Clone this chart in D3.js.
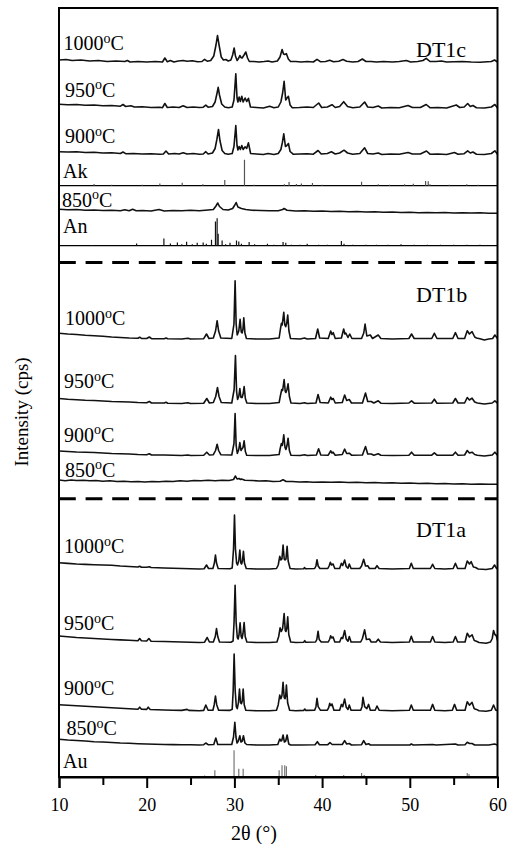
<!DOCTYPE html>
<html><head><meta charset="utf-8">
<script src="https://cdn.jsdelivr.net/npm/d3@7"></script>
<style>body{margin:0;background:#fff}svg{display:block}</style>
</head><body><svg id="c" width="518" height="844"></svg>
<script>
// ---------------- DATA (2θ in degrees, intensity in a.u. above each pattern's own baseline) ----------------
const panels = ["DT1c", "DT1b", "DT1a"];
const temps = [1000, 950, 900, 850, 1000, 950, 900, 850, 1000, 950, 900, 850];
const patternPanel = [0, 0, 0, 0, 1, 1, 1, 1, 2, 2, 2, 2];
const offsets = [715, 669, 622.5, 566, 438, 373.5, 321.5, 295, 208, 134.5, 66.3, 32];

const c1000 = [[10,2],[10.8,2.5],[11.5,1.5],[12.5,2],[13.5,1],[14.5,1.5],[15.5,0.5],[16.5,1],[17.5,0.5],[17.8,1.5],[18.1,0],[19,0.5],[20,0],[21,0.5],[21.8,0],[22.07,4],[22.35,0.3],[22.7,1.5],[23.1,0],[23.6,1],[24.16,1.5],[24.6,0.8],[25.2,1.2],[25.8,0.3],[26.3,0.5],[26.6,2.7],[26.9,0.8],[27.3,1.5],[27.65,6],[27.9,17],[28.07,26.5],[28.25,17],[28.5,5],[28.75,2],[29.02,2.5],[29.3,1],[29.6,2],[29.8,7],[29.97,14],[30.12,6],[30.31,1.5],[30.5,4],[30.62,6.5],[30.75,4.5],[30.88,4],[31.1,7],[31.3,10],[31.5,4],[31.7,0.5],[32.2,0.5],[32.8,0],[33.4,0.5],[33.84,1],[34.3,0],[34.9,1],[35.2,5],[35.44,12.5],[35.6,8],[35.72,7.5],[35.93,8.3],[36.15,3],[36.4,0.5],[37,0.5],[37.6,0],[38.3,0.5],[39,0],[39.42,2.7],[39.8,0.3],[40.4,0.5],[40.87,1.8],[41.3,0.2],[41.9,0.8],[42.38,2.5],[42.8,0.8],[43.5,0],[44.1,0.5],[44.59,3],[45,0.5],[45.6,0.5],[46.2,0],[47,0.5],[48,0],[48.8,0.5],[49.6,1.5],[50.1,0],[50.9,0.5],[51.5,1.5],[51.87,3.7],[52.3,0.5],[53,0.5],[53.6,1],[54.2,0],[55,0.3],[56,0.5],[57,0],[58,-0.3],[59.3,0.5],[59.66,2],[60,0]];
const c950 = [[10,3.7],[11,3.2],[12,3.5],[13,2.7],[14,3],[15,2.3],[16,2.5],[17,1.8],[17.3,3.5],[17.6,1.5],[18.2,2.3],[18.6,1],[19.5,1.2],[20.5,0.5],[21.5,0.8],[21.8,0.3],[22.07,4.5],[22.35,0.5],[23,1],[23.7,0.5],[24.16,2.3],[24.6,0.5],[25.3,1],[26,0.5],[26.45,0.8],[26.74,2.8],[27,0.8],[27.5,1.5],[27.8,6],[28.0,14],[28.15,20.7],[28.3,13],[28.55,4],[28.9,1],[29.3,0.3],[29.75,1],[29.95,8],[30.16,34.3],[30.3,10],[30.4,6],[30.54,11],[30.68,6.5],[30.84,11.7],[31.0,6],[31.22,10],[31.4,6.5],[31.6,9.7],[31.83,1],[32.5,0.5],[33.3,0],[34.03,1.7],[34.5,0.3],[35.0,1],[35.3,6],[35.5,15],[35.67,26.7],[35.85,8],[36.0,10],[36.16,11.7],[36.35,3],[36.6,0.3],[37.4,0.5],[38.28,1],[39,0.5],[39.61,5],[39.95,0.5],[40.6,1],[41.13,3.3],[41.5,0.5],[42,1.5],[42.46,6.3],[42.9,1.5],[43.5,0.3],[44.3,1],[44.85,6],[45.2,1],[45.8,0.5],[46.4,2],[46.8,0],[47.8,0.5],[48.8,0.3],[49.8,2.5],[50.3,0.5],[51.2,0.5],[51.87,3.5],[52.3,0.3],[53.2,0.5],[54.2,0],[55.3,3],[55.7,0.5],[56.2,1],[56.6,4.5],[56.9,1.5],[57.2,2.5],[57.6,0.3],[58.5,0],[59.3,1],[59.7,3.5],[60,0]];
const c900 = [[10,2.8],[11,2.5],[12,2.8],[13,2],[14,2.3],[15,1.5],[16,1.8],[17,1],[17.3,2.5],[17.6,0.8],[18.5,1],[19.5,0.5],[20.5,0.8],[21.5,0.3],[21.9,0.5],[22.2,3.5],[22.5,0.5],[23.2,1],[23.7,0.5],[24.16,1.8],[24.6,0.5],[25.3,1],[26,0.3],[26.45,0.5],[26.74,2.8],[27,0.5],[27.5,1.5],[27.8,6],[28.0,15],[28.19,25],[28.35,14],[28.6,4],[28.9,1],[29.3,0.3],[29.75,1],[29.95,8],[30.16,29],[30.3,9],[30.4,4.5],[30.54,8],[30.68,5],[30.84,9],[31.0,5],[31.22,7.7],[31.4,6],[31.6,11.7],[31.85,1],[32.5,0.5],[33.3,0],[33.84,1],[34.5,0],[35.0,1],[35.3,5],[35.47,12],[35.63,20.7],[35.82,8],[35.98,9],[36.16,11],[36.35,3],[36.7,0.3],[37.4,0.5],[38.3,0.8],[39,0.3],[39.54,4],[39.9,0.5],[40.6,1],[41.06,2.7],[41.5,0.5],[42,1.5],[42.5,4.3],[42.9,1.5],[43.5,0.3],[44.3,1],[44.85,6.7],[45.2,1],[45.8,0.5],[46.4,1.5],[46.8,0],[47.8,0.5],[48.8,0.3],[49.8,2],[50.3,0.5],[51.2,0.5],[51.9,3.5],[52.3,0.3],[53.2,0.5],[54.2,0],[55.1,2],[55.5,0.3],[56.2,0.8],[56.6,3.7],[56.9,1.5],[57.2,2.5],[57.6,0.3],[58.5,0],[59.3,1],[59.7,3.7],[60,0.3]];
const c850 = [[10,1.7],[11,1.2],[12,1.5],[13,0.8],[14,1],[15,0.5],[16,0.8],[17,0.3],[17.5,1.3],[18,0.3],[18.4,1.8],[18.8,0.3],[19.5,0.5],[20.5,0],[21.4,1.5],[22,0],[23,0.5],[24,0.3],[25,0.8],[26,0.3],[27,1],[27.6,1.5],[27.9,5],[28.1,8],[28.3,4.5],[28.7,1.5],[29.3,1],[29.8,2.5],[30.05,6],[30.2,8.5],[30.4,4],[30.8,2.5],[31.3,1.5],[32,0.8],[33,0.5],[34,0.3],[35,0.3],[35.5,1.5],[35.67,2.5],[36,0.8],[37,0],[38,0.3],[39,-0.3],[40,0],[41,-0.5],[42,-0.3],[43,-0.8],[44,-0.5],[45,-1],[46,-0.8],[47,-1.2],[48,-1],[49,-1.5],[50,-1.2],[51,-1.7],[52,-1.5],[53,-1.8],[54,-1.5],[55,-2],[56,-1.7],[57,-2],[58,-1.8],[59,-2.3],[60,-2.3]];

const b1000 = [[10,5.7],[11,5],[12,4.5],[13,3.8],[14,3.3],[15,2.7],[16,2],[17,1.5],[18,1],[19,0.8],[19.2,1.8],[19.4,0.6],[20,0.5],[20.3,2],[20.55,0.4],[22,0.3],[22.2,1],[22.4,0.2],[24,0],[24.7,0.8],[25,0],[26.5,0.3],[26.82,5],[27.1,0.5],[27.6,1],[27.85,8],[28.03,18.3],[28.2,8],[28.45,1],[29.7,0.5],[29.95,15],[30.08,58.3],[30.2,15],[30.32,4],[30.5,8],[30.65,19.7],[30.78,7],[30.88,6],[30.98,10],[31.07,21.3],[31.2,6],[31.37,0.5],[32.5,0],[34,0],[35.1,1],[35.25,10],[35.36,15.7],[35.45,14],[35.63,26.7],[35.75,14],[35.85,12.3],[35.97,16],[36.08,24],[36.22,8],[36.4,0.5],[37.5,0],[38.0,1],[38.3,0],[39.25,0.5],[39.5,10],[39.72,1],[40.7,0.5],[40.98,8],[41.12,4.5],[41.27,6.3],[41.5,0.5],[42.2,1],[42.46,10],[42.6,5],[42.7,6],[42.95,1.5],[43.15,5],[43.4,0.5],[44.5,0.5],[44.75,6],[44.9,15],[45.1,3],[45.5,4],[45.75,0.5],[46.4,4],[46.7,0.5],[48,0],[49.9,0.5],[50.2,5],[50.5,0.5],[52.5,0.5],[52.8,5.7],[53.1,0.5],[54.9,0.5],[55.2,6.3],[55.5,0.5],[56.25,0.5],[56.55,8.3],[56.8,5],[57.1,7.3],[57.4,2],[57.6,1],[58,0.3],[58.5,-1],[59,0],[59.45,0.5],[59.7,4],[60,0.5]];
const b950 = [[10,5],[11,4.3],[12,3.8],[13,3.3],[14,3],[15,2.5],[16,2],[17,1.7],[18,1.5],[19,1],[20,0.8],[20.3,2],[20.55,0.5],[22,0.5],[22.2,1.3],[22.4,0.3],[24,0],[24.7,0.7],[25,0],[26.5,0.3],[26.85,5],[27.15,0.5],[27.6,1],[27.87,7],[28.07,16],[28.25,7],[28.5,1],[29.7,0.5],[29.97,14],[30.12,48],[30.25,12],[30.36,4],[30.5,7],[30.62,15],[30.75,6],[30.88,6],[30.98,9],[31.11,17],[31.25,5],[31.42,0.5],[32.5,0],[34,0],[35.1,1],[35.25,8],[35.4,14],[35.5,13],[35.67,24],[35.8,12],[35.88,11],[36.0,14],[36.12,19.7],[36.27,7],[36.45,0.5],[37.5,0],[38.0,0.8],[38.3,0],[39.3,0.5],[39.54,9],[39.78,1],[40.7,0.5],[40.98,6.3],[41.12,4],[41.27,5],[41.5,0.5],[42.3,1],[42.57,8.5],[42.8,3],[43.1,4],[43.35,0.5],[44.6,0.5],[44.95,10.5],[45.2,2],[45.6,2],[45.9,0.5],[46.4,2.7],[46.7,0.3],[48,0],[49.9,0.5],[50.2,2.7],[50.5,0.3],[52.5,0.5],[52.8,4.3],[53.1,0.3],[54.9,0.5],[55.2,5],[55.5,0.5],[56.25,0.5],[56.55,6],[56.8,3.5],[57.1,5.3],[57.4,1.5],[57.7,0.5],[58.5,-0.5],[59.4,0.5],[59.7,2.7],[60,0.3]];
const b900 = [[10,4.5],[11,4],[12,3.5],[13,3.2],[14,3],[15,2.5],[16,2],[17,1.7],[18,1.5],[19,1],[20,0.8],[20.3,1.8],[20.55,0.5],[22,0.5],[24,0],[24.7,0.5],[25,0],[26.5,0.3],[26.85,3.3],[27.15,0.5],[27.6,0.8],[27.85,5],[28.03,11.3],[28.2,5],[28.45,0.8],[29.7,0.5],[29.95,12],[30.08,42],[30.2,10],[30.33,2],[30.5,6],[30.62,13],[30.75,5],[30.85,6.5],[30.98,8],[31.11,14.7],[31.25,4],[31.4,0.3],[32.5,0],[34,0],[35.1,1],[35.22,7],[35.36,12],[35.47,10],[35.63,20.7],[35.77,8],[35.87,6],[36.0,10],[36.12,17.3],[36.27,5],[36.45,0.3],[37.5,0],[38.0,0.8],[38.3,0],[39.35,0.5],[39.6,6.7],[39.85,0.5],[40.7,0.3],[40.98,4.7],[41.12,2.5],[41.25,3.3],[41.5,0.3],[42.3,1],[42.57,6.3],[42.8,2],[43.1,2.3],[43.35,0.3],[44.6,0.5],[44.95,9],[45.2,1.5],[45.6,1.5],[45.9,0.3],[46.4,1.7],[46.7,0.3],[48,0],[49.9,0.3],[50.2,3.3],[50.5,0.3],[52.5,0.3],[52.8,2.7],[53.1,0.3],[54.9,0.3],[55.2,3.3],[55.5,0.3],[56.25,0.5],[56.55,5],[56.8,2.5],[57.1,3.3],[57.4,1],[57.7,0.3],[58.5,-0.5],[59.4,0.5],[59.7,3.3],[60,0.3]];
const b850 = [[10,2],[10.7,1.3],[11.4,2],[12,1.5],[12.8,1.8],[13.5,1.2],[14.2,1.5],[15,0.8],[15.8,1.2],[16.6,0.5],[17.4,0.8],[18.2,0.3],[19,0.5],[19.8,0],[20.6,0.5],[21.4,0.3],[22.2,0.8],[23,0.5],[23.8,1.2],[24.6,0.8],[25.4,1.5],[26.2,1.2],[27,1.8],[27.8,1.3],[28.6,1.8],[29.4,1.5],[29.9,2.5],[30.12,6],[30.3,3],[30.54,3.5],[30.7,2.5],[30.8,3],[31.2,1.8],[32,1.5],[32.8,1],[33.6,1.2],[34.4,0.5],[35.2,0.8],[35.55,2.3],[35.9,0.5],[36.6,0.5],[37.4,0],[38.2,0.3],[39,-0.2],[40,0],[41,-0.3],[42,0],[43,-0.5],[44,-0.3],[45,-0.8],[46,-0.5],[47,-1],[48,-0.8],[49,-1.2],[50,-1],[51,-1.5],[52,-1.2],[53,-1.7],[54,-1.5],[55,-2],[56,-1.7],[57,-2.2],[58,-2],[59,-2.3],[60,-2.3]];

const a1000 = [[10,6.3],[11,5.6],[12,5],[13,4.6],[14,4.3],[15,4],[16,3.7],[17,3],[18,2.5],[19,2],[19.2,2.8],[19.4,1.8],[20,1.7],[20.3,2.3],[20.5,1.5],[22,1],[23,0.8],[24,0.5],[25,0.3],[26,0],[26.55,0.3],[26.82,4],[27.05,0.5],[27.55,0.5],[27.72,6],[27.84,14],[27.96,6],[28.15,0.5],[29.5,0.3],[29.75,1],[29.9,20],[30.01,54],[30.12,20],[30.25,6],[30.35,4],[30.5,8],[30.62,19],[30.74,6],[30.82,5],[30.92,8],[31.03,17.7],[31.15,6],[31.35,0.5],[32.5,0],[34,0],[34.8,0.5],[35.0,4],[35.17,12.7],[35.3,9],[35.42,10],[35.55,24],[35.68,10],[35.78,9],[35.88,10],[36.01,22.7],[36.13,8],[36.35,0.5],[37,0],[37.9,0.3],[38.0,1.5],[38.1,0.3],[39.15,0.5],[39.3,3],[39.42,9.3],[39.55,3],[39.75,0.5],[40.65,0.5],[40.8,3],[40.94,6.7],[41.07,4],[41.25,5],[41.45,0.5],[42,0.5],[42.2,5.7],[42.35,3.5],[42.57,9],[42.75,2.5],[42.95,0.8],[43.1,5],[43.3,0.5],[44.3,0.5],[44.5,3],[44.74,9.7],[44.95,3],[45.2,3.3],[45.4,0.5],[46.05,0.5],[46.26,3.3],[46.5,0.5],[48,0],[49.95,0.5],[50.17,5.7],[50.4,0.5],[52.35,0.5],[52.6,4.7],[52.85,0.5],[54,0],[54.95,0.5],[55.2,5.7],[55.45,0.5],[56.3,0.5],[56.55,8],[56.8,5],[57.0,7.3],[57.25,2],[57.5,1.5],[57.8,0],[58.7,-0.5],[59.4,0.5],[59.66,4],[59.9,0.5],[60,0.3]];
const a950 = [[10,6.5],[11,5.7],[12,5],[13,4.5],[14,4],[15,3.5],[16,3],[17,2.6],[18,2.3],[19,1.8],[19.2,4],[19.4,1.7],[20,1.5],[20.25,4],[20.5,1.3],[22,1],[23,0.8],[24,0.5],[25,0.3],[26,0],[26.6,0.3],[26.9,5],[27.15,0.5],[27.6,0.5],[27.82,6],[27.96,14],[28.1,6],[28.3,0.5],[29.6,0.3],[29.85,1.5],[29.96,20],[30.08,57.3],[30.2,20],[30.33,5],[30.43,3.5],[30.53,8],[30.65,19.7],[30.77,6],[30.87,4],[30.98,9],[31.11,20],[31.23,6],[31.42,0.5],[32.5,0],[34,0],[34.85,0.5],[35.05,6],[35.21,14.7],[35.35,11],[35.5,14],[35.67,29],[35.8,12],[35.88,11],[35.97,14],[36.08,25.7],[36.2,8],[36.42,0.5],[37,0],[37.9,0.3],[38.02,1.8],[38.15,0.3],[39.25,0.5],[39.4,3],[39.54,11.3],[39.67,3],[39.9,0.5],[40.7,0.5],[40.85,3],[40.98,6.7],[41.1,4.5],[41.25,5.5],[41.45,0.5],[42,0.5],[42.2,5],[42.35,4],[42.57,12],[42.75,3.5],[42.95,1.3],[43.1,6],[43.3,0.5],[44.4,0.5],[44.6,4],[44.85,12.7],[45.05,3],[45.4,3.5],[45.6,0.5],[46.15,0.5],[46.4,3.3],[46.65,0.5],[48,0],[49.95,0.5],[50.17,6.3],[50.4,0.5],[52.35,0.5],[52.6,6],[52.85,0.5],[54,0],[54.95,0.5],[55.2,6],[55.45,0.5],[56.3,0.5],[56.55,9.3],[56.8,5.5],[57.1,7.7],[57.35,2],[57.6,1.3],[57.9,0],[58.7,-0.7],[59.2,0.5],[59.4,4],[59.55,12],[59.7,8],[59.85,7],[60,2]];
const a900 = [[10,6],[11,5.5],[12,5],[13,4.5],[14,4],[15,3.5],[16,3],[17,2.5],[18,2],[19,1.5],[19.2,3.5],[19.4,1.4],[20,1.3],[20.17,3.5],[20.4,1.2],[22,0.7],[23,0.5],[24,0.3],[24.6,1.3],[24.8,0.3],[26,0],[26.5,0.3],[26.74,5.7],[27,0.5],[27.55,0.5],[27.7,6],[27.84,14.7],[27.98,6],[28.2,0.5],[29.5,0.3],[29.75,1.5],[29.86,20],[29.97,56.7],[30.09,20],[30.22,4],[30.33,2],[30.46,8],[30.58,21.7],[30.7,8],[30.8,7],[30.9,10],[31.0,21.7],[31.12,6],[31.3,0.5],[32.5,0],[34,0],[34.8,0.5],[35.0,6],[35.17,15.7],[35.3,12],[35.42,15],[35.55,28.3],[35.68,13],[35.78,12],[35.85,15],[35.93,25.7],[36.07,8],[36.3,0.5],[37,0],[37.9,0.3],[38.02,1.7],[38.15,0.3],[39.15,0.5],[39.3,4],[39.42,12.3],[39.55,4],[39.8,0.5],[40.6,0.5],[40.75,3],[40.87,7.3],[41.0,5],[41.13,6.7],[41.35,0.5],[42,0.5],[42.2,6.3],[42.35,4],[42.57,11.7],[42.75,3.5],[42.95,1.3],[43.1,5.7],[43.3,0.5],[44.4,0.5],[44.55,4],[44.66,13.3],[44.85,4],[45.1,2],[45.3,6.3],[45.5,0.5],[46.05,0.5],[46.26,4.7],[46.5,0.5],[48,0],[49.95,0.5],[50.17,5.7],[50.4,0.5],[52.35,0.5],[52.6,6.3],[52.85,0.5],[54,0],[54.85,0.5],[55.1,6.3],[55.35,0.5],[56.3,0.5],[56.55,9],[56.8,5.5],[57.1,8.3],[57.35,2],[57.6,1.3],[57.9,0],[58.7,-0.5],[59.3,0.5],[59.55,5.7],[59.8,0.5],[60,0.3]];
const a850 = [[10,5.7],[11,5],[12,4.5],[13,4],[14,3.3],[15,3],[16,2.5],[17,2],[18,1.7],[19,1.3],[20,1],[21,0.8],[22,0.5],[23,0.4],[24,0.3],[25,0.2],[26,0],[26.5,0.3],[26.74,2],[27,0.3],[27.65,0.5],[27.88,7],[28.1,0.5],[29.7,0.5],[29.9,8],[30.05,22.7],[30.18,8],[30.3,2],[30.45,4],[30.62,9.3],[30.75,3],[30.9,4],[31.03,9.3],[31.2,2],[31.4,0.5],[32.5,0],[34,0],[34.95,0.5],[35.17,6],[35.3,4],[35.4,4.5],[35.55,10],[35.7,3],[35.85,4],[36.01,10],[36.2,1],[36.4,0],[37.5,0],[39.2,0.3],[39.46,3.3],[39.7,0.3],[40.65,0.3],[40.9,2.3],[41.15,0.5],[42.3,0.5],[42.57,4.3],[42.8,1],[43.1,1.5],[43.35,0],[44.5,0.3],[44.74,4.3],[45,0.5],[45.3,1.3],[45.5,0],[48,0],[50,0],[50.17,1],[50.4,0],[52.6,0.5],[53,0],[55.2,1],[55.5,0],[56.3,0.3],[56.55,2.7],[56.8,1.5],[57.1,1.5],[57.4,0],[59,0],[59.66,1],[60,0]];

const patterns = [c1000, c950, c900, c850, b1000, b950, b900, b850, a1000, a950, a900, a850];

// reference stick patterns: [2θ, relative intensity]
const stickNames = ["Ak", "An", "Au"];
const stickBases = [591.3, 531.3, 0];
const akSticks = [[14,1.7],[16,1],[19.5,1],[21.5,2.3],[24.05,3],[26.4,1.5],[28.9,5.7],[31.15,26],[32.25,1],[35.7,1.5],[36.23,3.7],[37.07,1.7],[37.64,2.3],[38.9,2.7],[40.0,1],[44.5,4],[46.4,1.5],[47.7,1],[49.4,1.5],[50.4,2],[51.8,4.7],[52.1,4.5],[52.3,1.5],[54.5,1],[56.5,1.5],[57.8,1]];
const anSticks = [[13.7,0.7],[18.85,2.3],[21.96,7.3],[22.7,2.3],[23.5,3.3],[24.0,1.5],[24.55,4],[25.2,1.5],[25.76,3],[26.44,3.3],[26.8,2],[27.39,6],[27.84,24.3],[28.03,27.5],[28.15,12],[28.6,5.3],[29.0,1.5],[29.5,3],[30.24,5.3],[30.5,4.3],[30.8,2],[31.68,3.7],[32.3,1.5],[33.77,2],[34.5,1],[35.55,3.7],[35.86,3],[36.5,1],[37.5,1],[38.3,2],[39.6,1],[40.6,1],[42.2,4.7],[42.5,2],[43.5,1],[45,1],[46.2,1],[47.5,1],[49,1.5],[50.5,1],[52,1],[53.5,1],[55,1],[56.5,1],[58,1]];
const auSticks = [[26.6,1.5],[27.77,6.7],[29.96,26.7],[30.5,8.3],[31.0,8.3],[35.1,6.7],[35.43,11.7],[35.74,11.7],[35.93,10.7],[39.27,2],[40.9,1],[42.46,2],[44.5,4],[44.8,2],[56.55,4],[56.75,3]];
const stickSets = [akSticks, anSticks, auSticks];

const panelBreaks = [514.5, 278.3];   // dashed separators between panels (intensity units)
const xMajorTicks = [10, 20, 30, 40, 50, 60];
const xMinorTicks = [15, 25, 35, 45, 55];
const xTitle = "2θ (°)";
const yTitle = "Intensity (cps)";

// ---------------- LAYOUT ----------------
const FONT = "'Liberation Serif','Times New Roman',Times,serif";
const plot = {left: 59, right: 497.5, top: 8, bottom: 777};
const tempLabelX = [63.5, 65, 65, 62, 65, 64, 64, 65, 64, 64, 64, 66.5];
const tempLabelY = [50, 96.7, 143.3, 206.7, 325, 388.3, 441.7, 476.7, 553.3, 630, 695, 735];
const panelLabelY = [56.7, 301.7, 536.7];
const stickLabelY = [178.3, 233.3, 768.3];
const stickColors = ["#555", "#111", "#777"];

const svg = d3.select("#c");
const x = d3.scaleLinear().domain([10, 60]).range([plot.left, plot.right]);
const y = d3.scaleLinear().domain([0, 770]).range([plot.bottom, plot.bottom - 770]);

svg.append("defs").append("clipPath").attr("id", "clip")
  .append("rect").attr("x", plot.left).attr("y", plot.top)
  .attr("width", plot.right - plot.left).attr("height", plot.bottom - plot.top);

const g = svg.append("g").attr("clip-path", "url(#clip)");

// patterns
patterns.forEach((pts, i) => {
  const line = d3.line().x(d => x(d[0])).y(d => y(offsets[i] + d[1]));
  g.append("path").datum(pts).attr("d", line)
    .attr("fill", "none").attr("stroke", "#111").attr("stroke-width", 1.6)
    .attr("stroke-linejoin", "round");
});

// stick patterns with their baselines
stickSets.forEach((sticks, k) => {
  const base = stickBases[k];
  if (base > 0) {
    g.append("line").attr("x1", x(10)).attr("x2", x(60))
      .attr("y1", y(base)).attr("y2", y(base))
      .attr("stroke", "#000").attr("stroke-width", 1.2);
  }
  g.selectAll(null).data(sticks).enter().append("line")
    .attr("x1", d => x(d[0])).attr("x2", d => x(d[0]))
    .attr("y1", y(base)).attr("y2", d => y(base + d[1]))
    .attr("stroke", stickColors[k]).attr("stroke-width", 1.2);
});

// dashed panel separators
panelBreaks.forEach(v => {
  g.append("line").attr("x1", x(10)).attr("x2", x(60))
    .attr("y1", y(v)).attr("y2", y(v))
    .attr("stroke", "#000").attr("stroke-width", 3)
    .attr("stroke-dasharray", "16.8,9.8");
});

// frame
svg.append("rect").attr("x", plot.left).attr("y", plot.top)
  .attr("width", plot.right - plot.left).attr("height", plot.bottom - plot.top)
  .attr("fill", "none").attr("stroke", "#000").attr("stroke-width", 2);

// x axis
const axMaj = svg.append("g").attr("transform", `translate(0,${plot.bottom})`)
  .call(d3.axisBottom(x).tickValues(xMajorTicks).tickSize(11).tickPadding(10).tickFormat(d3.format("d")));
axMaj.select(".domain").attr("stroke-width", 2);
axMaj.selectAll(".tick line").attr("stroke-width", 2);
axMaj.selectAll(".tick text").attr("font-family", FONT).attr("font-size", 18).attr("fill", "#000");
const axMin = svg.append("g").attr("transform", `translate(0,${plot.bottom})`)
  .call(d3.axisBottom(x).tickValues(xMinorTicks).tickSize(8).tickFormat(""));
axMin.select(".domain").remove();
axMin.selectAll(".tick line").attr("stroke-width", 2);

// axis titles
svg.append("text").attr("x", 254).attr("y", 840).attr("text-anchor", "middle")
  .attr("font-family", FONT).attr("font-size", 20).text(xTitle);
svg.append("text").attr("transform", "translate(27.5,412) rotate(-90)")
  .attr("text-anchor", "middle").attr("font-family", FONT).attr("font-size", 19).text(yTitle);

// temperature labels
temps.forEach((t, i) => {
  const tx = svg.append("text").attr("x", tempLabelX[i]).attr("y", tempLabelY[i])
    .attr("font-family", FONT).attr("font-size", 20).attr("fill", "#000");
  tx.append("tspan").text(t);
  tx.append("tspan").attr("font-size", 14).attr("dy", -7.5).text("o");
  tx.append("tspan").attr("dy", 7.5).text("C");
});

// panel labels
panels.forEach((p, i) => {
  svg.append("text").attr("x", 416).attr("y", panelLabelY[i])
    .attr("font-family", FONT).attr("font-size", 22).text(p);
});

// stick labels
stickNames.forEach((s, i) => {
  svg.append("text").attr("x", 63).attr("y", stickLabelY[i])
    .attr("font-family", FONT).attr("font-size", 20).text(s);
});
</script>
</body></html>
